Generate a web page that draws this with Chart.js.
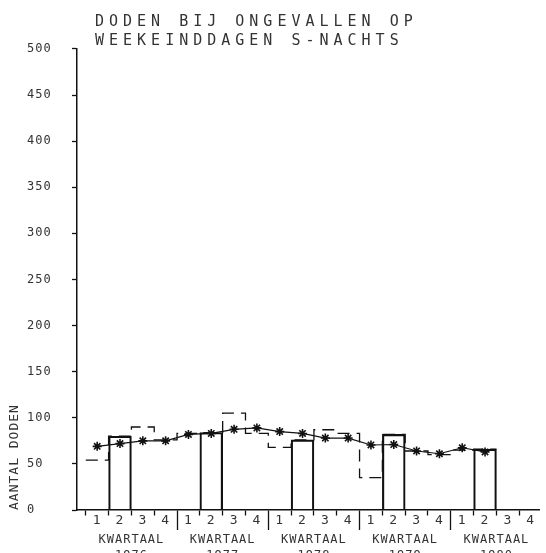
<!DOCTYPE html>
<html>
<head>
<meta charset="utf-8">
<script src="https://cdn.jsdelivr.net/npm/chart.js@4/dist/chart.umd.min.js"></script>
<style>
  html, body { margin: 0; padding: 0; background: #ffffff; overflow: hidden; }
  #wrap { width: 546px; height: 553px; overflow: hidden; position: relative; background: #ffffff; }
  canvas { display: block; }
</style>
</head>
<body>
<div id="wrap"><canvas id="c" width="546" height="574"></canvas></div>
<script>
// ---- data ----
const TITLE_LINES = ['DODEN BIJ ONGEVALLEN OP', 'WEEKEINDDAGEN S-NACHTS'];
const Y_TITLE = 'AANTAL DODEN';
const PERIOD_WORD = 'KWARTAAL';
const YEARS = ['1976', '1977', '1978', '1979', '1980'];
const QUARTER_LABELS = ['1','2','3','4', '1','2','3','4', '1','2','3','4', '1','2','3','4', '1','2','3','4'];
// deaths per quarter (step outline; quarter 2 drawn as solid bars)
const QUARTER_VALUES = [54, 80, 90, 76,  83, 84, 105, 83,  68, 76, 87, 83,  35, 82, 64, 60,  65, 66, null, null];
// smoothed trend line (asterisks)
const TREND_VALUES   = [69, 72, 75, 75,  82, 83, 87.5, 89,  85, 83, 78, 78,  70.5, 71, 64, 61,  67.5, 63, null, null];
const SOLID_QUARTER = '2';
const Y_MIN = 0, Y_MAX = 500, Y_STEP = 50;

// ---- datasets built from the arrays ----
const lastIdx = QUARTER_VALUES.reduce((a, v, i) => (v == null ? a : i), -1);
const stepData = QUARTER_VALUES.slice(0, lastIdx + 1).map((v, i) => ({ x: i - 0.5, y: v }));
stepData.push({ x: lastIdx + 0.5, y: QUARTER_VALUES[lastIdx] });
const barData = QUARTER_VALUES.map((v, i) => ({ x: i, y: QUARTER_LABELS[i] === SOLID_QUARTER ? v : null }));
const trendData = TREND_VALUES.map((v, i) => ({ x: i, y: v }));

const FONT = 'DejaVu Sans Mono';
const INK = '#111111';
const TEXT = '#333333';
const X_MIN = -0.885, X_MAX = 19.405;

const plotterText = {
  id: 'plotterText',
  afterLayout(chart) {
    const t = chart.titleBlock;
    if (t && !t._patched) {
      const orig = t.draw;
      t.draw = function () {
        const ctx = this.ctx;
        ctx.save();
        ctx.letterSpacing = '5px';
        ctx.translate(18, 0);
        orig.apply(this, arguments);
        ctx.restore();
      };
      t._patched = true;
    }
  },
  beforeDraw(chart) {
    chart.ctx.letterSpacing = '1px';
  }
};

new Chart(document.getElementById('c'), {
  type: 'bar',
  data: {
    datasets: [
      {
        type: 'line',
        label: 'trend',
        data: trendData,
        borderColor: INK,
        borderWidth: 1.2,
        tension: 0,
        fill: false,
        pointStyle: 'star',
        pointRadius: 4.5,
        pointBorderWidth: 1.6,
        pointBorderColor: INK,
        pointBackgroundColor: INK
      },
      {
        type: 'line',
        label: 'per kwartaal',
        data: stepData,
        stepped: true,
        borderColor: INK,
        borderWidth: 1.3,
        borderDash: [12, 7],
        pointRadius: 0,
        fill: false
      },
      {
        type: 'bar',
        label: 'kwartaal 2',
        data: barData,
        borderColor: INK,
        borderWidth: 1.5,
        backgroundColor: 'rgba(0,0,0,0)',
        barPercentage: 1,
        categoryPercentage: 1,
        borderSkipped: 'bottom'
      }
    ]
  },
  plugins: [plotterText],
  options: {
    responsive: false,
    animation: false,
    layout: { padding: { left: 27, right: 0, top: 0, bottom: 0 } },
    plugins: {
      legend: { display: false },
      tooltip: { enabled: false },
      title: {
        display: true,
        text: TITLE_LINES,
        align: 'start',
        fullSize: false,
        color: TEXT,
        font: { family: FONT, size: 15, weight: 'normal', lineHeight: 1.23 },
        padding: { top: 13.25, bottom: -1.25 }
      }
    },
    scales: {
      x: {
        type: 'linear',
        position: 'bottom',
        offset: false,
        min: X_MIN,
        max: X_MAX,
        weight: 0,
        afterBuildTicks: (s) => { s.ticks = QUARTER_LABELS.map((_, i) => ({ value: i })); },
        afterFit: (s) => { s.height = 24; },
        ticks: {
          autoSkip: false,
          maxRotation: 0,
          padding: -17,
          color: TEXT,
          font: { family: FONT, size: 13 },
          callback: (v, i) => QUARTER_LABELS[i]
        },
        grid: {
          drawOnChartArea: false,
          offset: true,
          tickLength: 20,
          color: INK,
          tickWidth: 1.3,
          tickBorderDash: (c) => (c.index > 0 && c.index % 4 === 0) ? [] : [5, 200]
        },
        border: { display: true, color: INK, width: 1.5 }
      },
      x2: {
        type: 'linear',
        position: 'bottom',
        offset: false,
        min: X_MIN,
        max: X_MAX,
        weight: 1,
        afterBuildTicks: (s) => { s.ticks = YEARS.map((_, k) => ({ value: k * 4 + 1.5 })); },
        afterFit: (s) => { s.height = 40; },
        ticks: {
          autoSkip: false,
          maxRotation: 0,
          padding: -10.3,
          color: TEXT,
          font: { family: FONT, size: 12, lineHeight: 1.35 },
          callback: (v, i) => [PERIOD_WORD, YEARS[i]]
        },
        grid: { display: false },
        border: { display: false }
      },
      y: {
        type: 'linear',
        min: Y_MIN,
        max: Y_MAX,
        afterFit: (s) => { s.width = 50; },
        ticks: {
          stepSize: Y_STEP,
          crossAlign: 'far',
          color: TEXT,
          font: { family: FONT, size: 12 }
        },
        grid: { drawOnChartArea: false, tickLength: 5, color: INK, tickWidth: 1.3 },
        border: { color: INK, width: 1.5 },
        title: {
          display: true,
          text: Y_TITLE,
          align: 'start',
          color: TEXT,
          font: { family: FONT, size: 13 },
          padding: { top: -19.8, bottom: 0 }
        }
      }
    }
  }
});
</script>
</body>
</html>
